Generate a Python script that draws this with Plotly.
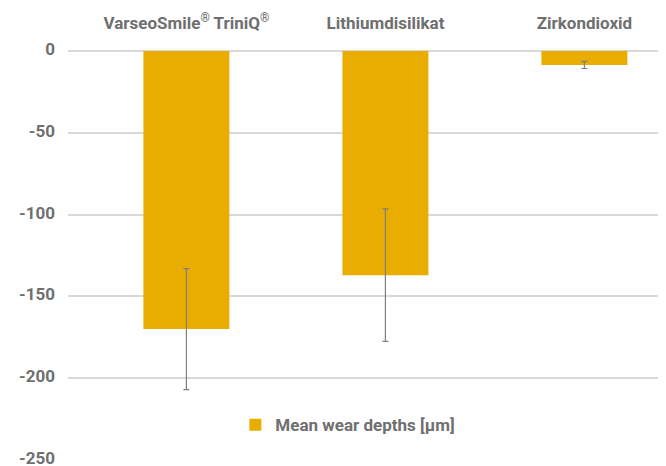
import plotly.graph_objects as go

categories = ["VarseoSmile® TriniQ®", "Lithiumdisilikat", "Zirkondioxid"]
category_labels = ["VarseoSmile<sup>®</sup> TriniQ<sup>®</sup>", "Lithiumdisilikat", "Zirkondioxid"]
mean_wear = [-170, -137, -8.5]
err = [37, 40.5, 2.2]
y_ticks = [0, -50, -100, -150, -200, -250]

grey = "#6f6f6f"
fig = go.Figure()
fig.add_trace(go.Bar(
    x=categories, y=mean_wear, name="Mean wear depths [µm]",
    marker=dict(color="#E8AD00", line=dict(width=0)),
    width=0.432,
    error_y=dict(type="data", array=err, visible=True, color="#7f7f7f", thickness=1.2, width=3),
))
fig.update_layout(
    width=666, height=466,
    margin=dict(l=60, r=8, t=43, b=14, autoexpand=False),
    plot_bgcolor="white", paper_bgcolor="white",
    font=dict(family="Roboto", size=17, color=grey),
    showlegend=True,
    legend=dict(orientation="h", x=0.468, xanchor="center", y=0.085, yanchor="middle",
                font=dict(size=17, color=grey, weight="bold"), bgcolor="rgba(0,0,0,0)"),
    xaxis=dict(side="top", range=[-0.595, 2.41], showgrid=False, showline=False,
               tickvals=categories, ticktext=category_labels, automargin=False,
               ticks="outside", ticklen=14, tickcolor="rgba(0,0,0,0)",
               tickfont=dict(size=17, color=grey, weight="bold"), fixedrange=True),
    yaxis=dict(range=[-250, 0], tickvals=y_ticks, ticktext=[str(v) for v in y_ticks],
               showgrid=True, gridcolor="#d9d9d9", gridwidth=1.5, automargin=False,
               zeroline=True, zerolinecolor="#d9d9d9", zerolinewidth=1.5,
               showline=False, ticks="", ticklabelstandoff=12, ticklabelshift=-2,
               tickfont=dict(size=17, color=grey, weight="bold")),
)
fig.write_html("out.html")
